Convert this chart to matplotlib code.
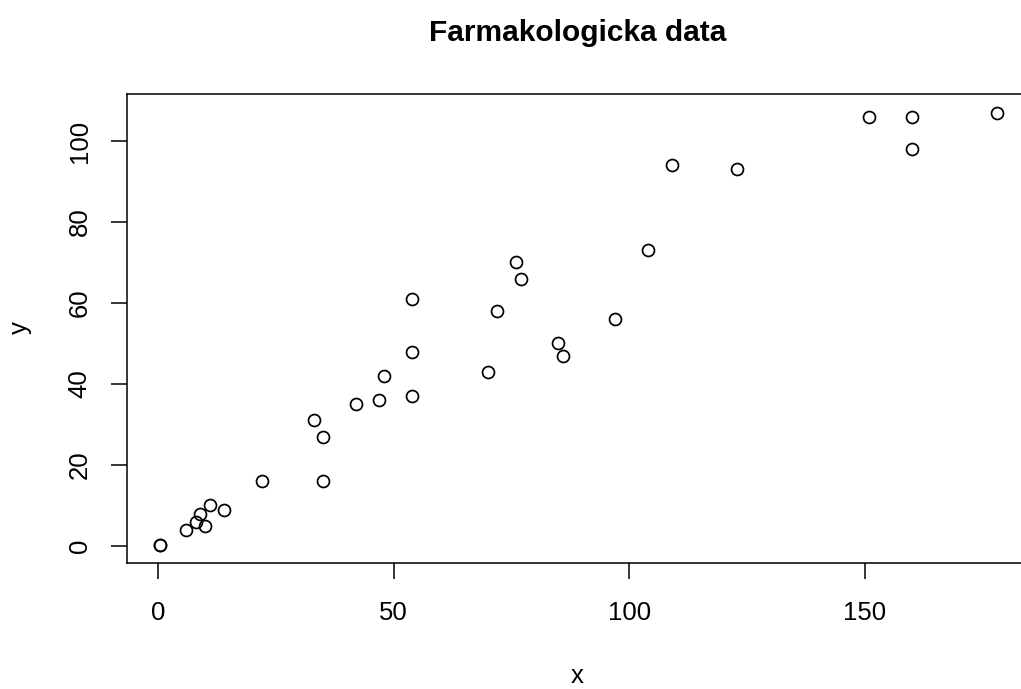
import matplotlib
matplotlib.use("Agg")
import matplotlib.pyplot as plt

# pharmacological data
x = [0.5, 0.5, 6, 8, 9, 10, 11, 14, 22, 33, 35, 35, 42, 47, 48, 54, 54, 54,
     70, 72, 76, 77, 85, 86, 97, 104, 109, 123, 151, 160, 160, 178]
y = [0.3, 0.3, 4, 6, 8, 5, 10, 9, 16, 31, 27, 16, 35, 36, 42, 37, 48, 61,
     43, 58, 70, 66, 50, 47, 56, 73, 94, 93, 106, 106, 98, 107]
xticks = [0, 50, 100, 150]
yticks = [0, 20, 40, 60, 80, 100]

plt.rcParams['font.family'] = ['Liberation Sans', 'DejaVu Sans']

fig = plt.figure(figsize=(10.21, 6.89), dpi=100)
# the right side of the box runs off the canvas, as in the reference
ax = fig.add_axes([127/1021, 1 - 563/689, 903/1021, 469/689])

ax.plot(x, y, linestyle='none', marker='o', markersize=8.6,
        markerfacecolor='none', markeredgecolor='black', markeredgewidth=1.25)

ax.set_xlim(-6.6, 185.1)
ax.set_ylim(-4.2, 111.6)

for s in ax.spines.values():
    s.set_linewidth(1.1)

ax.set_xticks(xticks)
ax.set_yticks(yticks)
ax.tick_params(axis='both', length=11.5, width=1.1, labelsize=18.5)
ax.tick_params(axis='x', pad=16)
ax.tick_params(axis='y', pad=14)
for lab in ax.get_yticklabels():
    lab.set_rotation(90)
    lab.set_va('center')

fig.text(578/1021, 1 - 33/689, 'Farmakologicka data', ha='center', va='center',
         fontsize=21.5, fontweight='bold')
fig.text(577/1021, 1 - 676/689, 'x', ha='center', va='center', fontsize=18.5)
fig.text(20/1021, 1 - 328/689, 'y', ha='center', va='center', fontsize=18.5, rotation=90)

fig.savefig('out.png', dpi=100)
